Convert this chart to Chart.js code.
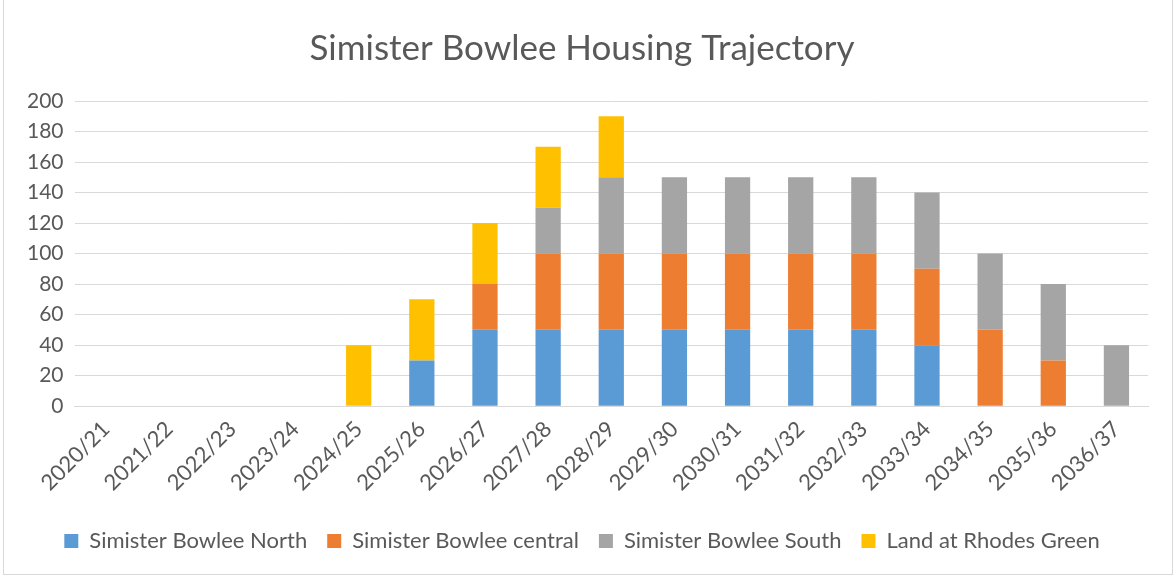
<!DOCTYPE html>
<html>
<head>
<meta charset="utf-8">
<script src="https://cdn.jsdelivr.net/npm/chart.js@4"></script>
<style>
  html, body { margin: 0; padding: 0; background: #fff; }
  #wrap { position: absolute; left: 3px; top: 0; width: 1170px; height: 575px; border: 1px solid #d9d9d9; border-top: none; box-sizing: border-box; }
</style>
</head>
<body>
<div id="wrap"><canvas id="myChart"></canvas></div>
<script>
const years = ["2020/21","2021/22","2022/23","2023/24","2024/25","2025/26","2026/27","2027/28","2028/29","2029/30","2030/31","2031/32","2032/33","2033/34","2034/35","2035/36","2036/37"];
const north   = [0,0,0,0,0,30,50,50,50,50,50,50,50,40,0,0,0];
const central = [0,0,0,0,0,0,30,50,50,50,50,50,50,50,50,30,0];
const south   = [0,0,0,0,0,0,0,30,50,50,50,50,50,50,50,50,40];
const rhodes  = [0,0,0,0,40,40,40,40,40,0,0,0,0,0,0,0,0];
const yTicks = [0,20,40,60,80,100,120,140,160,180,200];

const txt = "#595959";
const fam = "Lato, 'Open Sans', sans-serif";

const ds = (label, data, color) => ({ label, data, backgroundColor: color, barPercentage: 0.4, categoryPercentage: 1 });

new Chart(document.getElementById("myChart").getContext("2d"), {
    type: "bar",
    data: {
        labels: years,
        datasets: [
            ds("Simister Bowlee North", north, "#5B9BD5"),
            ds("Simister Bowlee central", central, "#ED7D31"),
            ds("Simister Bowlee South", south, "#A5A5A5"),
            ds("Land at Rhodes Green", rhodes, "#FFC000")
        ]
    },
    options: {
        responsive: true,
        maintainAspectRatio: false,
        animation: false,
        layout: { padding: { left: 12, right: 24, top: 28, bottom: 12 } },
        plugins: {
            title: { display: true, text: "Simister Bowlee Housing Trajectory", color: txt, font: { family: fam, size: 35, weight: "normal" }, padding: { top: 0, bottom: 31 } },
            legend: { position: "bottom", labels: { color: txt, font: { family: fam, size: 22 }, boxWidth: 14, boxHeight: 14, padding: 20 } },
            tooltip: { enabled: false }
        },
        scales: {
            x: {
                stacked: true,
                grid: { display: false },
                border: { color: "#d9d9d9" },
                ticks: { color: txt, font: { family: fam, size: 22 }, minRotation: 45, maxRotation: 45, padding: 2 },
                afterFit: axis => { axis.height += 12; }
            },
            y: {
                stacked: true,
                min: 0, max: 200,
                afterBuildTicks: axis => { axis.ticks = yTicks.map(v => ({ value: v })); },
                grid: { color: "#d9d9d9", drawTicks: false },
                border: { display: false },
                ticks: { color: txt, font: { family: fam, size: 21 }, padding: 11 }
            }
        }
    }
});
</script>
</body>
</html>
